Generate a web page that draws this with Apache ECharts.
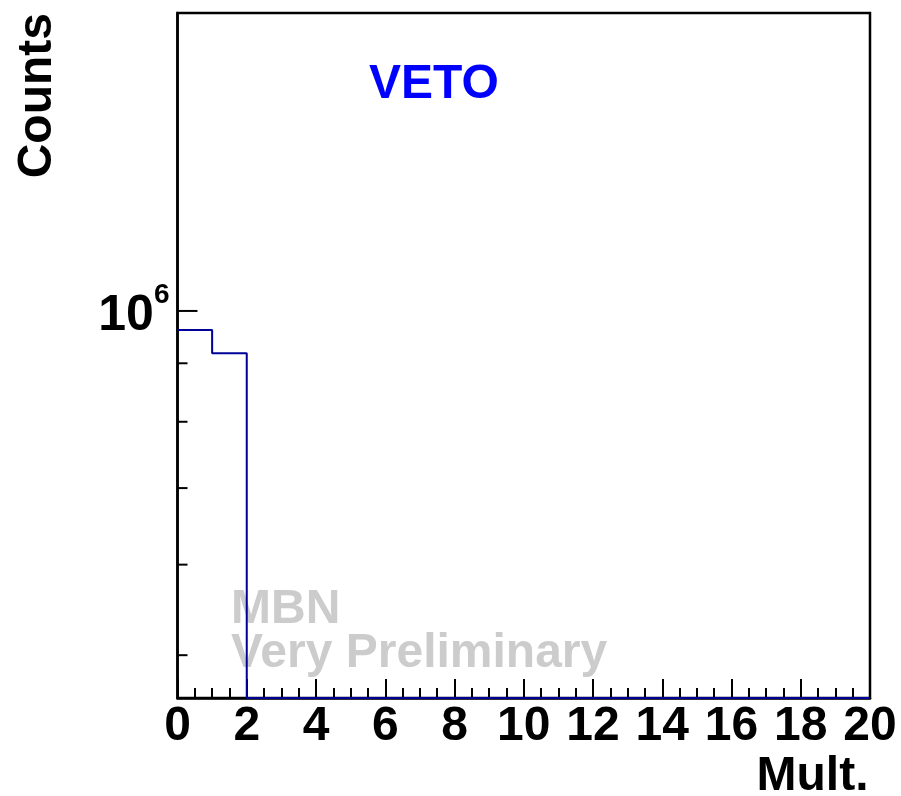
<!DOCTYPE html>
<html>
<head>
<meta charset="utf-8">
<script src="https://cdn.jsdelivr.net/npm/echarts@6/dist/echarts.min.js"></script>
<style>
html,body{margin:0;padding:0;background:#fff;}
#chart{width:901px;height:796px;}
</style>
</head>
<body>
<div id="chart"></div>
<script>
// ---- data ----
const binValues = [962500, 918500, 0, 0, 0, 0, 0, 0, 0, 0, 0, 0, 0, 0, 0, 0, 0, 0, 0, 0]; // bins of width 1 from 0 to 20
const xRange = [0, 20];
const xInterval = 2;
const yRange = [458700, 1822000];
const yMajorTicks = [1000000];
const yMinorTicks = [500000, 600000, 700000, 800000, 900000];
const titleText = 'VETO';
const xName = 'Mult.';
const yName = 'Counts';
const watermark = ['MBN', 'Very Preliminary'];

const FONT = 'Liberation Sans';

// step-line points built from bin values (empty bins drawn on the axis floor)
const stepPoints = [];
for (let i = 0; i < binValues.length; i++) {
  stepPoints.push([xRange[0] + i, Math.max(binValues[i], yRange[0])]);
}
stepPoints.push([xRange[0] + binValues.length, Math.max(binValues[binValues.length - 1], yRange[0])]);

const yTickData = yMajorTicks.map(v => [xRange[0], v, 1]).concat(yMinorTicks.map(v => [xRange[0], v, 0]));

const chart = echarts.init(document.getElementById('chart'), null, {renderer: 'canvas'});
chart.setOption({
  animation: false,
  backgroundColor: '#fff',
  title: {
    text: titleText,
    left: 369,
    top: 60.5,
    padding: 0,
    textStyle: {color: '#0000ff', fontFamily: FONT, fontWeight: 'bold', fontSize: 48}
  },
  grid: {
    left: 177.5, right: 31, top: 13, bottom: 98,
    outerBoundsMode: 'none',
    containLabel: false,
    show: true, borderColor: '#000', borderWidth: 2.5, backgroundColor: 'transparent'
  },
  xAxis: {
    type: 'value',
    min: xRange[0], max: xRange[1], interval: xInterval,
    name: xName,
    nameLocation: 'end',
    nameGap: -1.5,
    nameTextStyle: {
      color: '#000', fontFamily: FONT, fontWeight: 'bold', fontSize: 48,
      align: 'right', verticalAlign: 'top', padding: [55, 0, 0, 0]
    },
    axisLine: {show: true, lineStyle: {color: '#000', width: 2.5}},
    axisTick: {show: true, inside: true, length: 19, lineStyle: {color: '#000', width: 2}},
    minorTick: {show: true, splitNumber: 4, length: 10, lineStyle: {color: '#000', width: 2}},
    axisLabel: {
      margin: 5, color: '#000', fontFamily: FONT, fontWeight: 'bold', fontSize: 48
    },
    splitLine: {show: false}
  },
  yAxis: {
    type: 'log',
    logBase: 10,
    min: yRange[0], max: yRange[1],
    axisLine: {show: true, lineStyle: {color: '#000', width: 2.5}},
    axisTick: {show: false},
    splitLine: {show: false},
    axisLabel: {
      margin: 8,
      formatter: function (v) {
        const e = Math.log10(v);
        if (Math.abs(e - Math.round(e)) < 1e-9) {
          return '{b|10}{s|' + Math.round(e) + '}';
        }
        return '';
      },
      rich: {
        b: {fontFamily: FONT, fontWeight: 'bold', fontSize: 50, color: '#000', padding: [10, 0, 0, 0]},
        s: {fontFamily: FONT, fontWeight: 'bold', fontSize: 28, color: '#000', verticalAlign: 'top'}
      }
    }
  },
  graphic: [
    {
      type: 'text', z: 1,
      x: 38, y: 13, rotation: Math.PI / 2,
      style: {
        text: yName, fill: '#000', font: 'bold 48px "' + FONT + '"',
        align: 'right', verticalAlign: 'middle'
      }
    },
    {
      type: 'text', z: 1,
      x: 231, y: 588,
      style: {
        text: watermark.join('\n'), fill: '#cccccc', font: 'bold 48px "' + FONT + '"',
        lineHeight: 44, align: 'left', verticalAlign: 'top'
      }
    }
  ],
  series: [
    {
      type: 'line',
      z: 5,
      data: stepPoints,
      step: 'end',
      showSymbol: false,
      symbol: 'none',
      lineStyle: {color: '#000099', width: 2},
      silent: true
    },
    {
      type: 'custom',
      z: 6,
      silent: true,
      data: yTickData,
      renderItem: function (params, api) {
        const p = api.coord([api.value(0), api.value(1)]);
        const len = api.value(2) ? 20 : 10;
        return {
          type: 'line',
          shape: {x1: p[0], y1: p[1], x2: p[0] + len, y2: p[1]},
          style: {stroke: '#000', lineWidth: 2}
        };
      }
    }
  ]
});
</script>
</body>
</html>
